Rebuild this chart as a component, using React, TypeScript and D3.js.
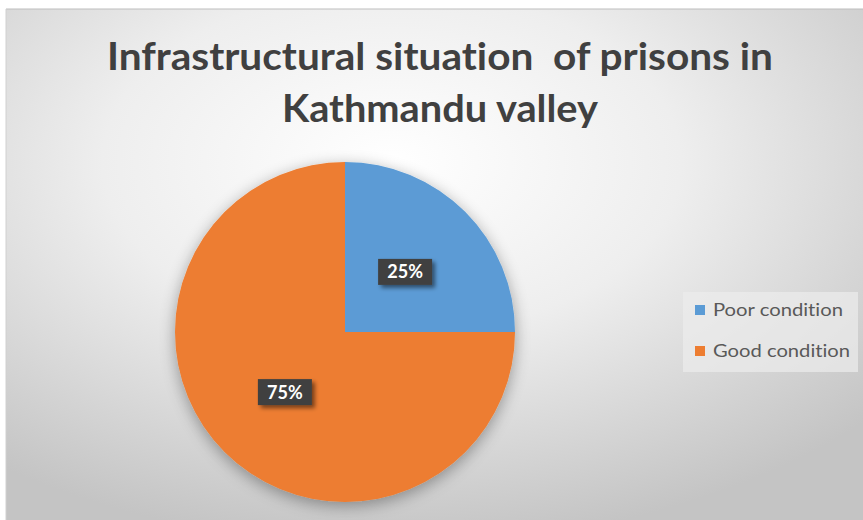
import React from "react";
import * as d3 from "d3";

const categories = ["Poor condition", "Good condition"];
const values = [25, 75];
const colors = ["#5b9bd5", "#ed7d31"];
const titleLines = ["Infrastructural situation  of prisons in", "Kathmandu valley"];

export default function App() {
  const W = 863, H = 520;
  const cx = 345, cy = 332, r = 170;
  const pie = d3.pie<number>().sort(null).value((d) => d)(values);
  const arc = d3.arc<d3.PieArcDatum<number>>().innerRadius(0).outerRadius(r);
  const labelArc = d3.arc<d3.PieArcDatum<number>>().innerRadius(r * 0.5).outerRadius(r * 0.5);
  const total = d3.sum(values);
  const noLig = { fontVariantLigatures: "none" as const, fontFeatureSettings: "'liga' 0, 'clig' 0" };
  return (
    <svg width={W} height={H} style={{ position: "absolute", left: 0, top: 0 }}>
      <defs>
        <radialGradient id="bg" cx="45%" cy="30%" r="75%">
          <stop offset="0%" stopColor="#ffffff" />
          <stop offset="45%" stopColor="#eeeeee" />
          <stop offset="100%" stopColor="#c4c4c4" />
        </radialGradient>
        <filter id="pieShadow" x="-30%" y="-30%" width="160%" height="160%">
          <feGaussianBlur in="SourceAlpha" stdDeviation="8" />
          <feOffset dx="0" dy="4" />
          <feComponentTransfer>
            <feFuncA type="linear" slope="0.35" />
          </feComponentTransfer>
          <feMerge>
            <feMergeNode />
            <feMergeNode in="SourceGraphic" />
          </feMerge>
        </filter>
        <filter id="lblShadow" x="-30%" y="-30%" width="160%" height="160%">
          <feGaussianBlur in="SourceAlpha" stdDeviation="2" />
          <feOffset dx="3" dy="3" />
          <feComponentTransfer>
            <feFuncA type="linear" slope="0.5" />
          </feComponentTransfer>
          <feMerge>
            <feMergeNode />
            <feMergeNode in="SourceGraphic" />
          </feMerge>
        </filter>
      </defs>
      <rect x={0} y={0} width={W} height={H} fill="#ffffff" />
      <rect x={6} y={9} width={W - 6} height={H - 9} fill="url(#bg)" />
      <line x1={6} y1={9} x2={W} y2={9} stroke="#bdbdbd" strokeWidth={1} />
      <line x1={6} y1={9} x2={6} y2={H} stroke="#d0d0d0" strokeWidth={1} />
      {titleLines.map((t, i) => (
        <text
          key={i}
          x={440}
          y={70 + i * 52}
          textAnchor="middle"
          fontFamily="Lato, 'Open Sans', sans-serif"
          fontWeight="bold"
          fontSize={38}
          fill="#404040"
          textLength={i === 0 ? 666 : 316}
          lengthAdjust="spacingAndGlyphs"
          style={{ whiteSpace: "pre", ...noLig }}
        >
          {t}
        </text>
      ))}
      <g transform={`translate(${cx},${cy})`}>
        <g filter="url(#pieShadow)">
          {pie.map((p, i) => (
            <path key={i} d={arc(p) || ""} fill={colors[i]} />
          ))}
        </g>
        {pie.map((p, i) => {
          const [lx, ly] = labelArc.centroid(p);
          const bw = 54, bh = 26;
          return (
            <g key={"l" + i} transform={`translate(${lx},${ly})`}>
              <rect x={-bw / 2} y={-bh / 2} width={bw} height={bh} fill="#404040" filter="url(#lblShadow)" />
              <text
                x={0}
                y={6.5}
                textAnchor="middle"
                fontFamily="Lato, 'Open Sans', sans-serif"
                fontWeight="bold"
                fontSize={18}
                fill="#ffffff"
              >
                {Math.round((p.data / total) * 100)}%
              </text>
            </g>
          );
        })}
      </g>
      <rect x={683} y={292} width={175} height={80} fill="#ececec" opacity={0.7} />
      {categories.map((c, i) => (
        <g key={c} transform={`translate(695,${310 + i * 41})`}>
          <rect x={0} y={-5} width={10} height={10} fill={colors[i]} />
          <text
            x={18}
            y={6}
            fontFamily="Lato, 'Open Sans', sans-serif"
            fontSize={17}
            fill="#595959"
            textLength={i === 0 ? 130 : 137}
            lengthAdjust="spacingAndGlyphs"
            style={noLig}
          >
            {c}
          </text>
        </g>
      ))}
    </svg>
  );
}
